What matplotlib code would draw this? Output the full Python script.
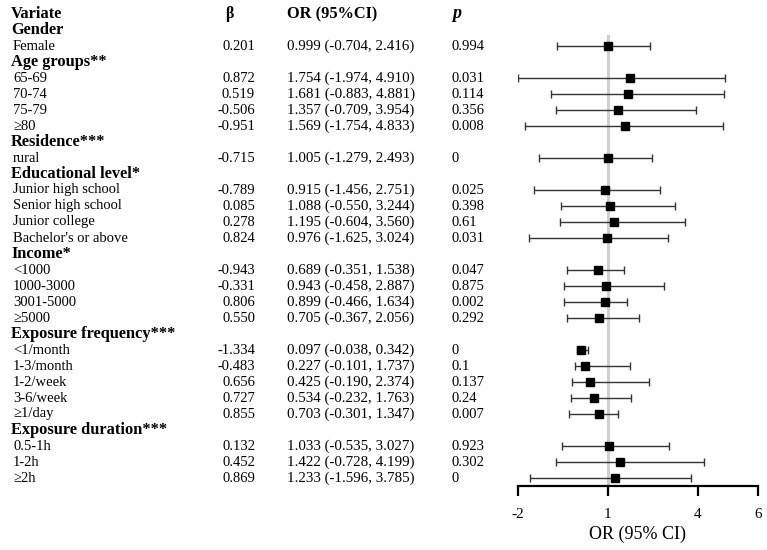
import matplotlib.pyplot as plt
import matplotlib.transforms as mtransforms

plt.rcParams['font.family'] = ['Liberation Serif', 'DejaVu Serif']

# rows: (label, is_group_heading)
labels = ["Gender", "Female", "Age groups**", "65-69", "70-74", "75-79", "\u226580",
          "Residence***", "rural", "Educational level*", "Junior high school",
          "Senior high school", "Junior college", "Bachelor's or above", "Income*",
          "<1000", "1000-3000", "3001-5000", "\u22655000", "Exposure frequency***",
          "<1/month", "1-3/month", "1-2/week", "3-6/week", "\u22651/day",
          "Exposure duration***", "0.5-1h", "1-2h", "\u22652h"]
is_group = [True, False, True, False, False, False, False, True, False, True,
            False, False, False, False, True, False, False, False, False, True,
            False, False, False, False, False, True, False, False, False]

beta = [None, 0.201, None, 0.872, 0.519, -0.506, -0.951, None, -0.715, None,
        -0.789, 0.085, 0.278, 0.824, None, -0.943, -0.331, 0.806, 0.550, None,
        -1.334, -0.483, 0.656, 0.727, 0.855, None, 0.132, 0.452, 0.869]
odds = [None, 0.999, None, 1.754, 1.681, 1.357, 1.569, None, 1.005, None,
        0.915, 1.088, 1.195, 0.976, None, 0.689, 0.943, 0.899, 0.705, None,
        0.097, 0.227, 0.425, 0.534, 0.703, None, 1.033, 1.422, 1.233]
ci_low = [None, -0.704, None, -1.974, -0.883, -0.709, -1.754, None, -1.279, None,
          -1.456, -0.550, -0.604, -1.625, None, -0.351, -0.458, -0.466, -0.367, None,
          -0.038, -0.101, -0.190, -0.232, -0.301, None, -0.535, -0.728, -1.596]
ci_high = [None, 2.416, None, 4.910, 4.881, 3.954, 4.833, None, 2.493, None,
           2.751, 3.244, 3.560, 3.024, None, 1.538, 2.887, 1.634, 2.056, None,
           0.342, 1.737, 2.374, 1.763, 1.347, None, 3.027, 4.199, 3.785]
p_values = [None, "0.994", None, "0.031", "0.114", "0.356", "0.008", None, "0", None,
            "0.025", "0.398", "0.61", "0.031", None, "0.047", "0.875", "0.002", "0.292", None,
            "0", "0.1", "0.137", "0.24", "0.007", None, "0.923", "0.302", "0"]

W, H = 767, 550
fig = plt.figure(figsize=(W / 100, H / 100), dpi=100)
ax = fig.add_axes([517.7 / W, 64 / H, 240 / W, 1 - 64 / H])

ax.set_xlim(-2, 6)
ax.set_ylim(29.5, -0.875)
ax.axvline(1, ymin=0, ymax=(29.5 - 1.35) / (29.5 + 0.875), color='#d0d0d0', lw=2.2, zorder=0)

for i, (o, lo, hi) in enumerate(zip(odds, ci_low, ci_high)):
    if o is None:
        continue
    y = i + 1
    ax.errorbar(o, y, xerr=[[o - lo], [hi - o]], fmt='s', color='black',
                ecolor='#333333', elinewidth=1.0, capsize=3, capthick=1.0,
                markersize=5.8, zorder=3)

for s in ['top', 'right', 'left']:
    ax.spines[s].set_visible(False)
ax.spines['bottom'].set_linewidth(1.6)
ax.set_yticks([])
ax.set_xticks([-2, 1, 4, 6])
ax.set_xticklabels(['-2', '1', '4', '6'])
ax.tick_params(axis='x', direction='out', length=7, width=1.6, labelsize=11, pad=9)
ax.set_xlabel('OR (95% CI)', fontsize=13, labelpad=3)

tr = mtransforms.blended_transform_factory(fig.transFigure, ax.transData)

def fx(px):
    return px / W

# header row
ax.text(fx(11), 0, "Variate", transform=tr, fontsize=11.8, fontweight='bold', va='center', clip_on=False)
ax.text(fx(229), 0, "\u03b2", transform=tr, fontsize=11.5, fontweight='bold', va='center', ha='center', clip_on=False)
ax.text(fx(287), 0, "OR (95%CI)", transform=tr, fontsize=11.8, fontweight='bold', va='center', clip_on=False)
ax.text(fx(452), 0, "p", transform=tr, fontsize=13, fontweight='bold', style='italic', va='center', clip_on=False)

for i, lab in enumerate(labels):
    y = i + 1
    if is_group[i]:
        ax.text(fx(11), y, lab, transform=tr, fontsize=11.8, fontweight='bold', va='center', clip_on=False)
        continue
    ax.text(fx(13), y, lab, transform=tr, fontsize=10.5, va='center', clip_on=False)
    ax.text(fx(255), y, f"{beta[i]:.3f}", transform=tr, fontsize=10.5, va='center', ha='right', clip_on=False)
    ax.text(fx(287), y, f"{odds[i]:.3f} ({ci_low[i]:.3f}, {ci_high[i]:.3f})", transform=tr,
            fontsize=10.8, va='center', clip_on=False)
    ax.text(fx(452), y, p_values[i], transform=tr, fontsize=10.5, va='center', clip_on=False)

fig.savefig('out.png', dpi=100)
